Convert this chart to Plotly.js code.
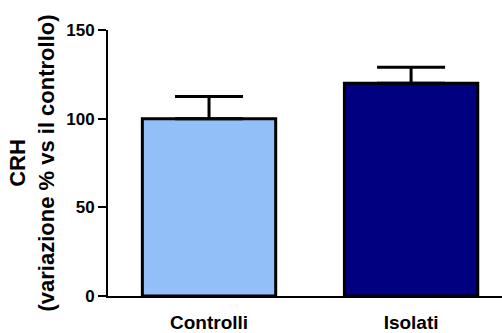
<!DOCTYPE html>
<html>
<head>
<meta charset="utf-8">
<script src="https://cdn.plot.ly/plotly-3.0.1.min.js"></script>
<style>html,body{margin:0;padding:0;background:#fff;}#chart{width:502px;height:333px;}</style>
</head>
<body>
<div id="chart"></div>
<script>
const categories = ["Controlli", "Isolati"];
const means = [100, 120];
const errorsUp = [12.5, 9];
const barColors = ["#92bff8", "#000080"];
const yTicks = [0, 50, 100, 150];

const FONT = "Arial, 'Liberation Sans', sans-serif";

const trace = {
  type: "bar",
  x: categories,
  y: means,
  width: 0.66,
  marker: {color: barColors, line: {color: "#000", width: 3}},
  error_y: {
    type: "data", symmetric: false,
    array: errorsUp, arrayminus: errorsUp.map(() => 0),
    color: "#000", thickness: 3, width: 34
  },
  hoverinfo: "none"
};

const layout = {
  width: 502, height: 333,
  margin: {l: 108, r: 0, t: 30, b: 37, pad: 0},
  paper_bgcolor: "#fff", plot_bgcolor: "#fff",
  showlegend: false,
  font: {family: FONT, color: "#000"},
  xaxis: {
    type: "category",
    range: [-0.5, 1.45],
    showline: true, linecolor: "#000", linewidth: 2,
    ticks: "", showgrid: false, zeroline: false,
    tickfont: {family: FONT, size: 19, weight: "bold", color: "#000"},
    ticklabelstandoff: 8,
    fixedrange: true
  },
  yaxis: {
    range: [0, 150],
    tickvals: yTicks,
    ticktext: yTicks.map(String),
    showline: true, linecolor: "#000", linewidth: 2,
    ticks: "outside", ticklen: 8, tickwidth: 2, tickcolor: "#000",
    showgrid: false, zeroline: false,
    tickfont: {family: FONT, size: 17, weight: "bold", color: "#000"},
    title: {
      text: "CRH<br>(variazione % vs il controllo)",
      font: {family: FONT, size: 22, weight: "bold", color: "#000"},
      standoff: 6
    },
    fixedrange: true
  }
};

Plotly.newPlot("chart", [trace], layout, {displayModeBar: false, staticPlot: true});
</script>
</body>
</html>
